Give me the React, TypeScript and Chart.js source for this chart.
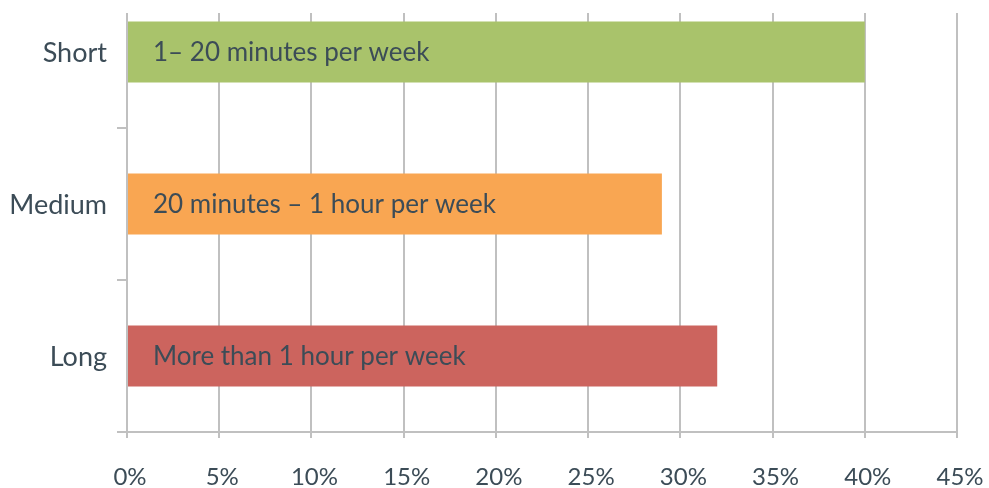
import React, { useEffect, useRef } from "react";
import { Chart, registerables } from "chart.js";

Chart.register(...registerables);

const categories = ["Short", "Medium", "Long"];
const barTexts = ["1– 20 minutes per week", "20 minutes – 1 hour per week", "More than 1 hour per week"];
const values = [40, 29, 32];
const barColors = ["#a9c36b", "#f9a652", "#cc645e"];
const xMin = 0;
const xMax = 45;
const xStep = 5;

const TEXT = "#3c4c57";
const GRID = "#c0c0c0";
const FONT = "Lato, 'Open Sans', sans-serif";

export default function App() {
  const ref = useRef<HTMLCanvasElement | null>(null);
  useEffect(() => {
    if (!ref.current) return;
    const gridTopOffset = 37;
    const gridPlugin = {
      id: "vgrid",
      beforeDatasetsDraw(chart: any) {
        const { ctx, chartArea } = chart;
        const xs = chart.scales.x;
        ctx.save();
        ctx.strokeStyle = GRID;
        ctx.lineWidth = 2;
        xs.ticks.forEach((t: any) => {
          const px = Math.round(xs.getPixelForValue(t.value));
          ctx.beginPath();
          ctx.moveTo(px, chartArea.top + gridTopOffset);
          ctx.lineTo(px, chartArea.bottom);
          ctx.stroke();
        });
        ctx.restore();
      },
    };
    const labelPlugin = {
      id: "barText",
      afterDatasetsDraw(chart: any) {
        const { ctx } = chart;
        const meta = chart.getDatasetMeta(0);
        const x0 = chart.scales.x.getPixelForValue(0);
        ctx.save();
        ctx.font = `26px ${FONT}`;
        ctx.fillStyle = TEXT;
        ctx.textBaseline = "middle";
        ctx.textAlign = "left";
        meta.data.forEach((bar: any, i: number) => {
          ctx.fillText(barTexts[i], x0 + 26, bar.y + 1);
        });
        ctx.restore();
      },
    };
    const chart = new Chart(ref.current, {
      type: "bar",
      data: {
        labels: categories,
        datasets: [
          {
            data: values,
            backgroundColor: barColors,
            borderWidth: 0,
            categoryPercentage: 1,
            barPercentage: 0.4,
          },
        ],
      },
      options: {
        indexAxis: "y",
        animation: false,
        responsive: true,
        maintainAspectRatio: false,
        layout: { autoPadding: false, padding: { left: 0, right: 32, top: 0, bottom: 0 } },
        plugins: { legend: { display: false }, tooltip: { enabled: false } },
        scales: {
          x: {
            min: xMin,
            max: xMax,
            ticks: {
              stepSize: xStep,
              color: TEXT,
              font: { family: FONT, size: 24 },
              padding: 25,
              labelOffset: 3,
              callback: (v: any) => v + "%",
            },
            grid: { drawOnChartArea: false, drawTicks: true, tickLength: 6, color: GRID, lineWidth: 2 },
            border: { display: true, color: GRID, width: 2 },
            afterFit: (s: any) => {
              s.height = 56;
              s.paddingLeft = 0;
              s.paddingRight = 0;
              s.paddingTop = 0;
              s.paddingBottom = 0;
            },
          },
          y: {
            ticks: { color: TEXT, font: { family: FONT, size: 27 }, padding: 10, labelOffset: 1 },
            grid: { offset: true, drawOnChartArea: false, drawTicks: true, tickLength: 10, color: GRID, lineWidth: 2 },
            border: { display: false },
            afterFit: (s: any) => {
              s.width = 127;
              s.paddingLeft = 0;
              s.paddingRight = 0;
              s.paddingTop = 0;
              s.paddingBottom = 0;
            },
          },
        },
      },
      plugins: [gridPlugin, labelPlugin],
    });
    return () => chart.destroy();
  }, []);
  return (
    <div style={{ position: "absolute", left: 0, top: 0, width: 989, height: 488, overflow: "hidden", background: "#fff" }}>
      <div style={{ position: "relative", width: 989, height: 512, marginTop: -24 }}>
        <canvas ref={ref} />
      </div>
    </div>
  );
}
